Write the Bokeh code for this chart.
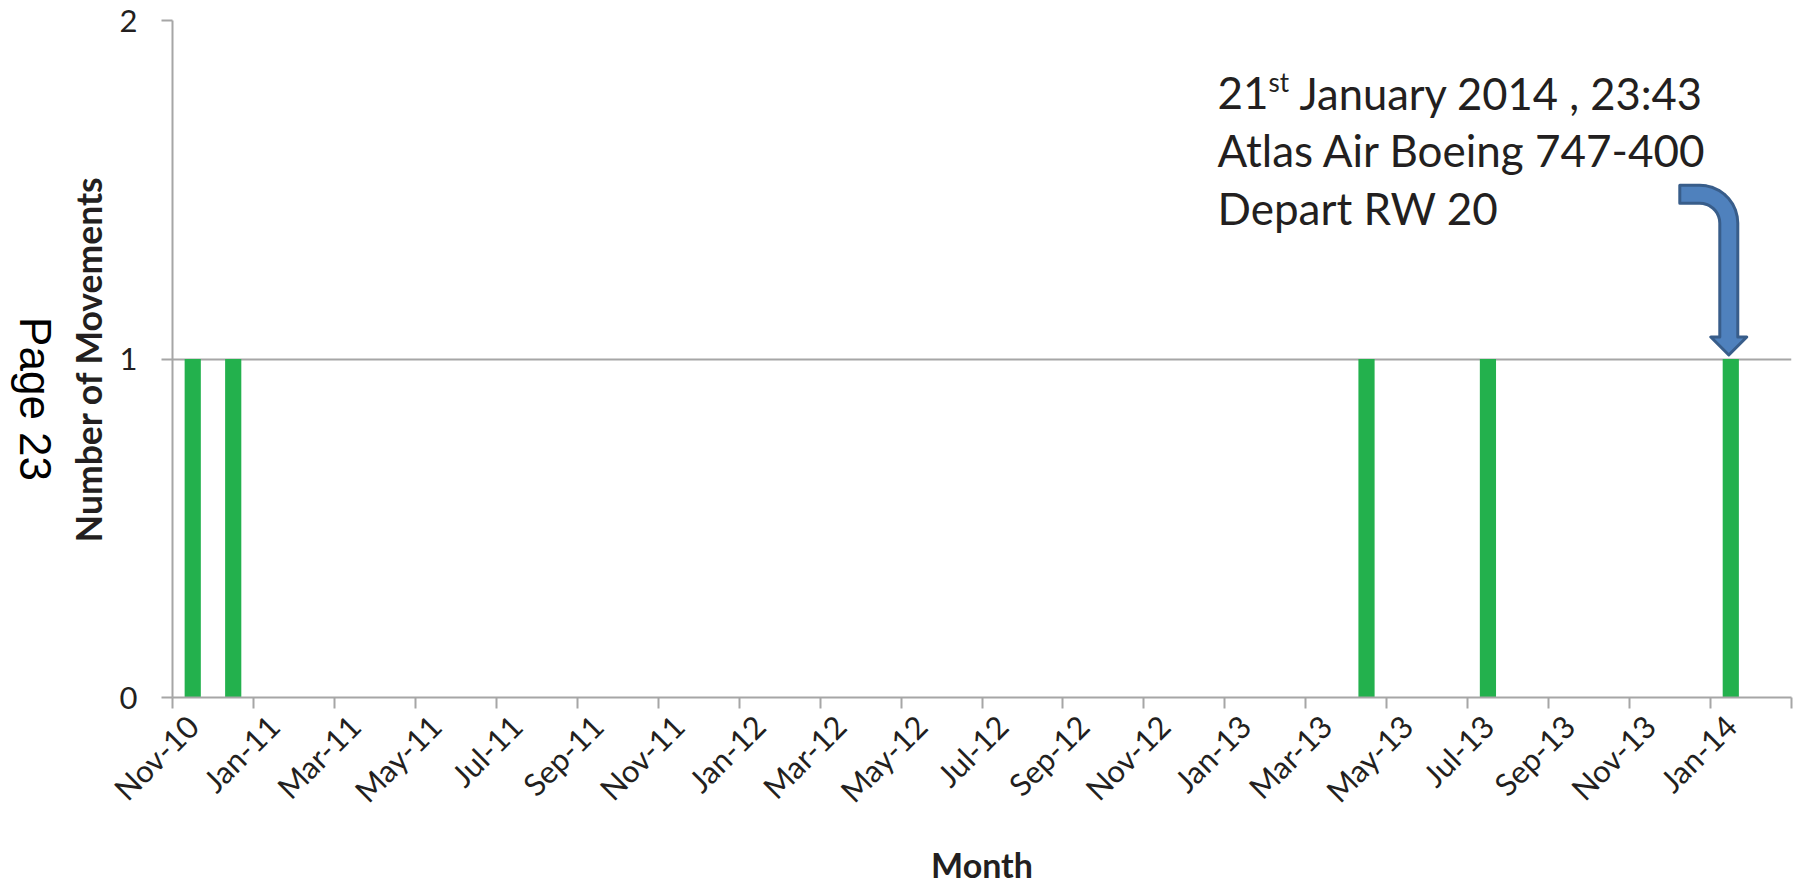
import math
from bokeh.plotting import figure
from bokeh.models import Range1d, FixedTicker, Label
from bokeh.layouts import row
from bokeh.core.properties import value
from bokeh.embed import file_html
from bokeh.resources import INLINE

# ---------------- data ----------------
months = ["Nov-10", "Dec-10",
          "Jan-11", "Feb-11", "Mar-11", "Apr-11", "May-11", "Jun-11",
          "Jul-11", "Aug-11", "Sep-11", "Oct-11", "Nov-11", "Dec-11",
          "Jan-12", "Feb-12", "Mar-12", "Apr-12", "May-12", "Jun-12",
          "Jul-12", "Aug-12", "Sep-12", "Oct-12", "Nov-12", "Dec-12",
          "Jan-13", "Feb-13", "Mar-13", "Apr-13", "May-13", "Jun-13",
          "Jul-13", "Aug-13", "Sep-13", "Oct-13", "Nov-13", "Dec-13",
          "Jan-14", "Feb-14"]
movements = [1, 1,
             0, 0, 0, 0, 0, 0, 0, 0, 0, 0, 0, 0,
             0, 0, 0, 0, 0, 0, 0, 0, 0, 0, 0, 0,
             0, 0, 0, 1, 0, 0, 1, 0, 0, 0, 0, 0,
             1, 0]
tick_labels = ["Nov-10", "Jan-11", "Mar-11", "May-11", "Jul-11", "Sep-11",
               "Nov-11", "Jan-12", "Mar-12", "May-12", "Jul-12", "Sep-12",
               "Nov-12", "Jan-13", "Mar-13", "May-13", "Jul-13", "Sep-13",
               "Nov-13", "Jan-14"]
y_ticks = [0, 1, 2]
annotated_month = "Jan-14"
note_line1_a = "21"
note_line1_sup = "st"
note_line1_b = "January 2014 , 23:43"
note_line2 = "Atlas Air Boeing 747-400"
note_line3 = "Depart RW 20"
page_text = "Page 23"
x_title = "Month"
y_title = "Number of Movements"

# ---------------- layout ----------------
TOTAL_W, H = 1796, 887
SIDE_W = 60                      # narrow strip holding the page marker
W = TOTAL_W - SIDE_W
BL, BR, BT, BB = 112, 5, 20, 189
FRAME_W = W - BL - BR
FRAME_H = H - BT - BB
N = len(months)

GRAY = "#a6a6a6"
TXT = "#231f20"
GREEN = "#23b14d"
FONT = "Lato"

# ---- page marker strip ----
side = figure(width=SIDE_W, height=H, title=None,
              x_range=Range1d(0, SIDE_W), y_range=Range1d(0, H),
              x_axis_location=None, y_axis_location=None,
              output_backend="svg", toolbar_location=None,
              min_border=0)
side.outline_line_color = None
side.grid.visible = False
side.text(x=[35], y=[H - 496], text=[page_text], angle=-math.pi / 2,
          text_align="center", text_baseline="middle",
          text_font=value("Liberation Sans"), text_font_size="44px",
          text_color="black")

# ---- main chart ----
p = figure(width=W, height=H, title=None,
           x_range=Range1d(0, N), y_range=Range1d(0, 2),
           output_backend="svg", toolbar_location=None,
           min_border_left=BL, min_border_right=BR,
           min_border_top=BT, min_border_bottom=BB)
p.outline_line_color = None
p.background_fill_color = "white"
p.border_fill_color = "white"

xs = [i + 0.5 for i in range(N)]
p.vbar(x=xs, top=movements, bottom=0, width=0.4,
       fill_color=GREEN, line_color=None)

label_pos = [months.index(m) + 0.5 for m in tick_labels]
p.xaxis.ticker = FixedTicker(ticks=label_pos,
                             minor_ticks=list(range(0, N + 1, 2)))
p.xaxis.major_label_overrides = {t: lab for t, lab in zip(label_pos, tick_labels)}
p.xaxis.major_tick_line_color = None
p.xaxis.major_tick_out = 0
p.xaxis.major_tick_in = 0
p.xaxis.minor_tick_line_color = GRAY
p.xaxis.minor_tick_line_width = 2
p.xaxis.minor_tick_out = 11
p.xaxis.minor_tick_in = 0
p.xaxis.major_label_orientation = math.pi / 4
p.xaxis.major_label_standoff = 12
p.xaxis.major_label_text_font = FONT
p.xaxis.major_label_text_font_size = "31px"
p.xaxis.major_label_text_color = TXT
p.xaxis.axis_line_color = GRAY
p.xaxis.axis_line_width = 2
p.xaxis.axis_label = x_title
p.xaxis.axis_label_text_font = FONT
p.xaxis.axis_label_text_font_size = "34px"
p.xaxis.axis_label_text_font_style = "bold"
p.xaxis.axis_label_text_color = TXT
p.xaxis.axis_label_standoff = 18

p.yaxis.ticker = FixedTicker(ticks=y_ticks)
p.yaxis.minor_tick_line_color = None
p.yaxis.major_tick_line_color = GRAY
p.yaxis.major_tick_line_width = 2
p.yaxis.major_tick_out = 11
p.yaxis.major_tick_in = 0
p.yaxis.major_label_standoff = 24
p.yaxis.major_label_text_font = FONT
p.yaxis.major_label_text_font_size = "31px"
p.yaxis.major_label_text_color = TXT
p.yaxis.axis_line_color = GRAY
p.yaxis.axis_line_width = 2
p.yaxis.axis_label = y_title
p.yaxis.axis_label_text_font = FONT
p.yaxis.axis_label_text_font_size = "35.5px"
p.yaxis.axis_label_text_font_style = "bold"
p.yaxis.axis_label_text_color = TXT
p.yaxis.axis_label_standoff = 7

p.xgrid.grid_line_color = None
p.ygrid.grid_line_color = GRAY
p.ygrid.grid_line_width = 2

# annotation text (screen units relative to the plot frame)
def note(x, y, txt, size):
    p.add_layout(Label(x=x, y=y + 0.41 * size - 3.5, x_units="screen", y_units="screen",
                       text=txt, text_font=FONT, text_font_size=f"{size}px",
                       text_color=TXT, text_align="left",
                       text_baseline="alphabetic"))

note(1045, 590, note_line1_a, 44)
note(1096, 608, note_line1_sup, 26)
note(1127, 590, note_line1_b, 43.5)
note(1045, 533, note_line2, 44)
note(1045, 475, note_line3, 44)

# bent arrow pointing at the annotated bar
ti = months.index(annotated_month)
cx = ti + 0.5
cy = movements[ti]
ux = FRAME_W / N
uy = FRAME_H / 2.0
pts = [(0, 4), (-18, 22), (-9, 22), (-9, 136)]
for k in range(0, 91, 10):
    a = math.radians(k)
    pts.append((-29 + 20 * math.cos(a), 136 + 20 * math.sin(a)))
pts += [(-49, 156), (-49, 174)]
for k in range(90, -1, -10):
    a = math.radians(k)
    pts.append((-29 + 38 * math.cos(a), 136 + 38 * math.sin(a)))
pts += [(9, 22), (18, 22)]
ax = [cx + (dx - 2) / ux for dx, dy in pts]
ay = [cy + dy / uy for dx, dy in pts]
p.patch(ax, ay, fill_color="#4f81bd", line_color="#385d8a",
        line_width=3, line_join="round")

layout = row(side, p, spacing=0)
open("out.html", "w").write(file_html(layout, INLINE))
